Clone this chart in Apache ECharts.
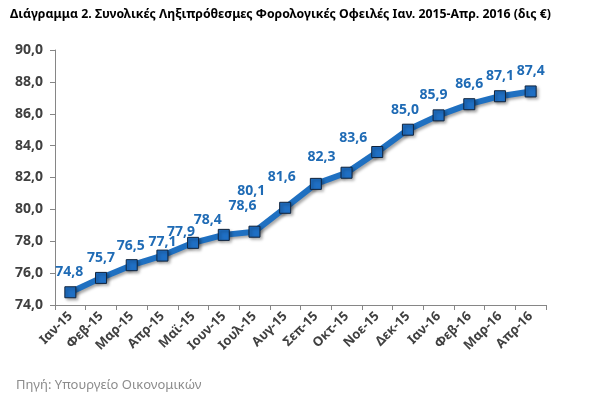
<!DOCTYPE html>
<html>
<head>
<meta charset="utf-8">
<title>Ληξιπρόθεσμες Φορολογικές Οφειλές</title>
<script src="https://cdn.jsdelivr.net/npm/echarts@6/dist/echarts.min.js"></script>
<style>
  html, body { margin: 0; padding: 0; background: #fff; }
  #chart { width: 596px; height: 409px; }
</style>
</head>
<body>
<div id="chart"></div>
<script>
// κατηγορίες (μήνες)
const months = ['Ιαν-15', 'Φεβ-15', 'Μαρ-15', 'Απρ-15', 'Μαϊ-15', 'Ιουν-15', 'Ιουλ-15', 'Αυγ-15',
  'Σεπ-15', 'Οκτ-15', 'Νοε-15', 'Δεκ-15', 'Ιαν-16', 'Φεβ-16', 'Μαρ-16', 'Απρ-16'];

// οφειλές σε δισ. ευρώ
const debt = [74.8, 75.7, 76.5, 77.1, 77.9, 78.4, 78.6, 80.1, 81.6, 82.3, 83.6, 85.0, 85.9, 86.6, 87.1, 87.4];

// άξονας y
const yMin = 74;
const yMax = 90;
const yStep = 2;

// μετατόπιση ετικετών (όπως στο Excel)
const labelShift = [[-1, -20], [0, -20], [-1, -19], [0, -14], [-12, -11], [-16, -15], [-12, -26], [-34, -17],
  [-34, -7], [-25, -16], [-24, -14], [-3, -20], [-5, -20], [0, -20], [0, -20], [0, -20]];

const fontFamily = '"Noto Sans", "Open Sans", sans-serif';
const blue = '#1f70c1';

const chart = echarts.init(document.getElementById('chart'));

const option = {
  backgroundColor: '#fff',
  animation: false,
  title: [
    {
      text: 'Διάγραμμα 2. Συνολικές Ληξιπρόθεσμες Φορολογικές Οφειλές Ιαν. 2015-Απρ. 2016 (δις €)',
      left: 5,
      top: 3,
      textStyle: { fontFamily: fontFamily, fontSize: 12.3, fontWeight: 'bold', color: '#000' }
    },
    {
      text: 'Πηγή: Υπουργείο Οικονομικών',
      left: 11,
      top: 374,
      textStyle: { fontFamily: fontFamily, fontSize: 13, fontWeight: 'normal', color: '#8c8c8c' }
    }
  ],
  grid: { left: 55, right: 50, top: 50, bottom: 104 },
  xAxis: {
    type: 'category',
    data: months,
    boundaryGap: true,
    axisLine: { lineStyle: { color: '#868686', width: 1 } },
    axisTick: { show: true, length: 5, lineStyle: { color: '#868686' } },
    axisLabel: {
      rotate: 45,
      interval: 0,
      margin: 9,
      fontFamily: fontFamily,
      fontSize: 13,
      fontWeight: 'bold',
      color: '#404040'
    }
  },
  yAxis: {
    type: 'value',
    min: yMin,
    max: yMax,
    interval: yStep,
    axisLine: { show: true, lineStyle: { color: '#868686', width: 1 } },
    axisTick: { show: true, length: 5, lineStyle: { color: '#868686' } },
    splitLine: { show: false },
    axisLabel: {
      margin: 12,
      fontFamily: fontFamily,
      fontSize: 14,
      fontWeight: 'bold',
      color: '#404040',
      formatter: v => v.toFixed(1).replace('.', ',')
    }
  },
  series: [
    {
      name: 'Οφειλές',
      type: 'line',
      data: debt.map((v, i) => ({
        value: v,
        label: { offset: labelShift[i] }
      })),
      symbol: 'rect',
      symbolSize: 11,
      lineStyle: {
        color: blue,
        width: 6,
        shadowColor: 'rgba(0,0,0,0.35)',
        shadowBlur: 3,
        shadowOffsetX: 2,
        shadowOffsetY: 2
      },
      itemStyle: {
        color: '#1f6fc4',
        borderColor: '#10243e',
        borderWidth: 1,
        shadowColor: 'rgba(0,0,0,0.35)',
        shadowBlur: 3,
        shadowOffsetX: 2,
        shadowOffsetY: 2
      },
      label: {
        show: true,
        position: 'inside',
        fontFamily: fontFamily,
        fontSize: 14,
        fontWeight: 'bold',
        color: '#1f6bb5',
        formatter: p => p.value.toFixed(1).replace('.', ',')
      },
      z: 3
    }
  ]
};

chart.setOption(option);
window.addEventListener('resize', () => chart.resize());
</script>
</body>
</html>
